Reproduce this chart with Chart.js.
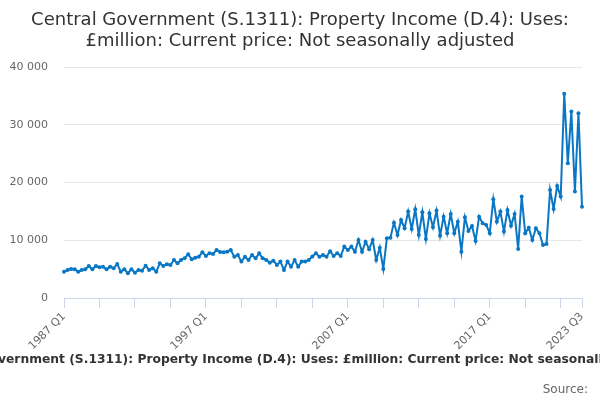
<!DOCTYPE html>
<html>
<head>
<meta charset="utf-8">
<script src="https://cdn.jsdelivr.net/npm/chart.js@4.4.1/dist/chart.umd.min.js"></script>
<style>
  html, body { margin: 0; padding: 0; background: #fff; }
  #wrap { position: relative; width: 600px; height: 400px; overflow: hidden; font-family: "DejaVu Sans", sans-serif; }
  #title { position: absolute; left: 0; top: 8px; width: 600px; text-align: center; font-size: 18px; line-height: 21px; color: #333; }
  #caption { position: absolute; left: -300px; width: 1200px; top: 352px; text-align: center; font-size: 12.3px; font-weight: bold; color: #333; white-space: nowrap; }
  #source { position: absolute; right: 12px; top: 382px; font-size: 12px; color: #666; }
  canvas { position: absolute; left: 0; top: 0; }
</style>
</head>
<body>
<div id="wrap">
  <canvas id="chart" width="600" height="400"></canvas>
  <div id="title">Central Government (S.1311): Property Income (D.4): Uses:<br>£million: Current price: Not seasonally adjusted</div>
  <div id="caption">Central Government (S.1311): Property Income (D.4): Uses: £million: Current price: Not seasonally adjusted</div>
  <div id="source">Source:</div>
</div>
<script>
  // quarterly values, £million (1987 Q1 .. 2023 Q3)
  const values1987to1996 = [
    4560, 4850, 5030, 4970, 4560, 4850, 4970, 5550, 4970, 5550,
    5310, 5430, 4970, 5430, 5140, 5890, 4560, 4970, 4280, 4970,
    4390, 4850, 4740, 5600, 4850, 5140, 4560, 6010, 5550, 5840,
    5720, 6590, 6010, 6590, 6880, 7570, 6700, 6990, 7160, 7920
  ];
  const values1997to2006 = [
    7280, 7740, 7630, 8320, 7950, 7920, 8030, 8320, 7160, 7450,
    6300, 7160, 6590, 7450, 6880, 7740, 6880, 6590, 6120, 6470,
    5720, 6300, 4850, 6300, 5430, 6590, 5430, 6300, 6300, 6590,
    7200, 7740, 7160, 7450, 7160, 8090, 7280, 7740, 7280, 8900
  ];
  const values2007to2016 = [
    8300, 8900, 8000, 10050, 8000, 9760, 8440, 10050, 6580, 8720,
    5030, 10340, 10450, 13050, 10900, 13500, 12080, 14960, 11960, 15370,
    10900, 14850, 10230, 14680, 12250, 15130, 10800, 14090, 11210, 14560,
    11210, 13220, 8020, 13980, 11610, 12480, 9880, 14090, 12940, 12650
  ];
  const values2017to2023 = [
    11210, 17100, 13220, 14960, 11500, 15250, 12530, 14560, 8490, 17560,
    11210, 12180, 10050, 12080, 11210, 9180, 9350, 18710, 15420, 19400,
    17560, 35350, 23340, 32290, 18420, 32000, 15820
  ];
  const firstYear = 1987;
  const labelledTicks = ['1987 Q1', '1997 Q1', '2007 Q1', '2017 Q1', '2023 Q3'];
  const yTicks = [0, 10000, 20000, 30000, 40000];

  const values = [].concat(values1987to1996, values1997to2006, values2007to2016, values2017to2023);
  const quarters = values.map((_, i) => (firstYear + Math.floor(i / 4)) + ' Q' + (i % 4 + 1));
  const lastIdx = values.length - 1;

  const axisFont = { family: 'DejaVu Sans', size: 11 };
  const lineColor = '#0a77c4';

  new Chart(document.getElementById('chart'), {
    type: 'line',
    data: {
      labels: quarters,
      datasets: [{
        data: values,
        borderColor: lineColor,
        backgroundColor: lineColor,
        borderWidth: 2,
        pointRadius: 2,
        pointBorderWidth: 0,
        pointBackgroundColor: lineColor,
        tension: 0
      }]
    },
    options: {
      responsive: false,
      animation: false,
      devicePixelRatio: 1,
      layout: { padding: { top: 67, right: 18, left: 0, bottom: 0 } },
      plugins: { legend: { display: false }, tooltip: { enabled: false }, title: { display: false } },
      scales: {
        x: {
          grid: {
            drawOnChartArea: false,
            tickLength: 10,
            tickColor: ctx => (ctx.index % 10 === 0 || ctx.index === lastIdx) ? '#ccd6eb' : 'rgba(0,0,0,0)'
          },
          border: { color: '#ccd6eb', width: 1 },
          ticks: {
            autoSkip: false,
            maxRotation: 45,
            minRotation: 45,
            padding: 2,
            color: '#666',
            font: axisFont,
            callback: (v, i) => labelledTicks.includes(quarters[i]) ? quarters[i] : ''
          },
          afterFit: s => { s.height = 102; }
        },
        y: {
          min: yTicks[0],
          max: yTicks[yTicks.length - 1],
          afterBuildTicks: s => { s.ticks = yTicks.map(v => ({ value: v })); },
          grid: { color: '#e6e6e6', drawTicks: false },
          border: { display: false },
          ticks: {
            padding: 16,
            color: '#666',
            font: axisFont,
            callback: v => String(v).replace(/\B(?=(\d{3})+(?!\d))/g, ' ')
          },
          afterFit: s => { s.width = 64; }
        }
      }
    }
  });
</script>
</body>
</html>
